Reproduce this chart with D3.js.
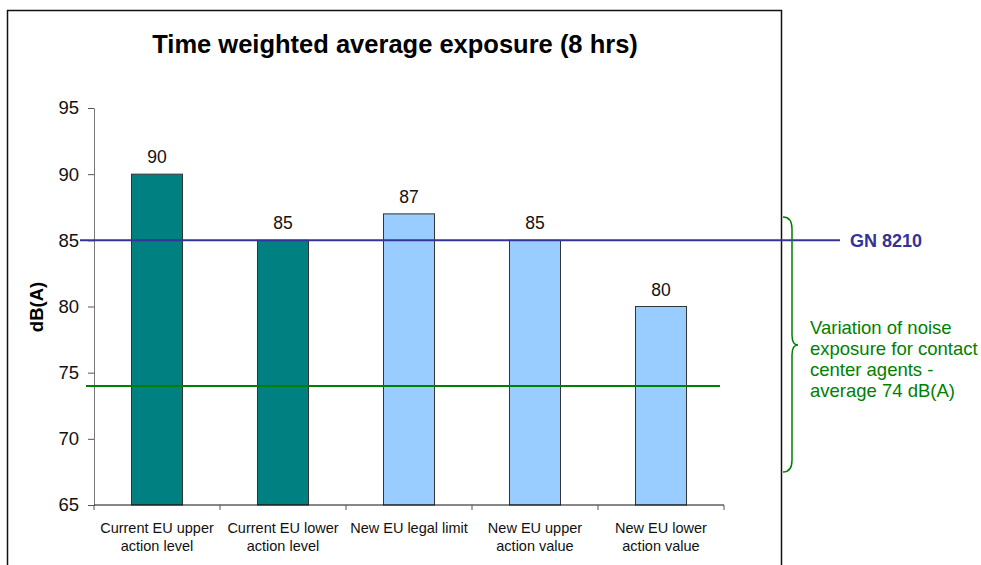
<!DOCTYPE html>
<html>
<head>
<meta charset="utf-8">
<script src="https://cdn.jsdelivr.net/npm/d3@7"></script>
<style>
  body { margin: 0; background: #fff; }
  svg { display: block; font-family: "Liberation Sans", Arial, sans-serif; }
</style>
</head>
<body>
<div id="my_dataviz"></div>
<script>
// data
const categories = [
    ["Current EU upper", "action level"],
    ["Current EU lower", "action level"],
    ["New EU legal limit"],
    ["New EU upper", "action value"],
    ["New EU lower", "action value"]
]
const values = [90, 85, 87, 85, 80]
const kinds = ["current", "current", "new", "new", "new"]
const yTicks = [65, 70, 75, 80, 85, 90, 95]
const gnLevel = 85
const averageLevel = 74
const noteLines = ["Variation of noise", "exposure for contact", "center agents -", "average 74 dB(A)"]

const W = 981, H = 565
const plot = { left: 94, right: 724, top: 108, bottom: 505 }

const svg = d3.select("#my_dataviz")
    .append("svg")
    .attr("width", W)
    .attr("height", H)

// outer frame
svg.append("rect")
    .attr("x", 7.5).attr("y", 10.5)
    .attr("width", 774).attr("height", 600)
    .attr("fill", "none")
    .attr("stroke", "#111")
    .attr("stroke-width", 1.5)

svg.append("text")
    .attr("x", 395).attr("y", 53)
    .attr("text-anchor", "middle")
    .attr("font-size", 25.5)
    .attr("font-weight", "bold")
    .text("Time weighted average exposure (8 hrs)")

const x = d3.scaleBand()
    .domain(d3.range(values.length))
    .range([plot.left, plot.right])
    .paddingInner(0.595)
    .paddingOuter(0.2975)

const y = d3.scaleLinear()
    .domain([65, 95])
    .range([plot.bottom, plot.top])

const color = d3.scaleOrdinal()
    .domain(["current", "new"])
    .range(["#008080", "#99ccff"])

// y axis
const yAxis = svg.append("g")
    .attr("transform", `translate(${plot.left},0)`)
    .call(d3.axisLeft(y).tickValues(yTicks).tickSize(6).tickPadding(9).tickSizeOuter(0))
yAxis.select(".domain").attr("stroke", "#777")
yAxis.selectAll(".tick line").attr("stroke", "#555")
yAxis.selectAll("text")
    .attr("font-size", 18.5)
    .attr("font-family", "Liberation Sans, Arial, sans-serif")
    .attr("fill", "#111")

svg.append("text")
    .attr("transform", "translate(43,307) rotate(-90)")
    .attr("text-anchor", "middle")
    .attr("font-size", 18.5)
    .attr("font-weight", "bold")
    .text("dB(A)")

// bars
svg.append("g")
    .selectAll("rect")
    .data(values)
    .join("rect")
    .attr("x", (d, i) => x(i))
    .attr("y", d => y(d))
    .attr("width", x.bandwidth())
    .attr("height", d => y(65) - y(d))
    .attr("fill", (d, i) => color(kinds[i]))
    .attr("stroke", "#333")
    .attr("stroke-width", 1)

svg.append("g")
    .selectAll("text")
    .data(values)
    .join("text")
    .attr("x", (d, i) => x(i) + x.bandwidth() / 2)
    .attr("y", d => y(d) - 11)
    .attr("text-anchor", "middle")
    .attr("font-size", 17.5)
    .attr("fill", "#111")
    .text(d => d)

// x axis with ticks on the band boundaries
svg.append("line")
    .attr("x1", plot.left).attr("x2", plot.right)
    .attr("y1", plot.bottom).attr("y2", plot.bottom)
    .attr("stroke", "#111")
const bounds = d3.range(values.length + 1).map(i => plot.left + i * x.step())
svg.append("g")
    .selectAll("line")
    .data(bounds)
    .join("line")
    .attr("x1", d => d).attr("x2", d => d)
    .attr("y1", plot.bottom).attr("y2", plot.bottom + 5)
    .attr("stroke", "#555")

const catText = svg.append("g")
    .selectAll("text")
    .data(categories)
    .join("text")
    .attr("x", (d, i) => x(i) + x.bandwidth() / 2)
    .attr("y", 533)
    .attr("text-anchor", "middle")
    .attr("font-size", 14.5)
    .attr("fill", "#111")
catText.selectAll("tspan")
    .data(d => d)
    .join("tspan")
    .attr("x", function() { return d3.select(this.parentNode).attr("x") })
    .attr("dy", (d, i) => i === 0 ? 0 : 18)
    .text(d => d)

// reference lines
svg.append("line")
    .attr("x1", 80).attr("x2", 840)
    .attr("y1", y(gnLevel)).attr("y2", y(gnLevel))
    .attr("stroke", "#333399")
    .attr("stroke-width", 2)
svg.append("text")
    .attr("x", 850).attr("y", y(gnLevel) + 7)
    .attr("font-size", 18)
    .attr("font-weight", "bold")
    .attr("fill", "#333399")
    .text("GN 8210")

svg.append("line")
    .attr("x1", 86).attr("x2", 720)
    .attr("y1", y(averageLevel)).attr("y2", y(averageLevel))
    .attr("stroke", "#008000")
    .attr("stroke-width", 2)

// brace showing the range of exposure
const bTop = 217, bBot = 472, bMid = 345, bx = 783
svg.append("path")
    .attr("d", `M${bx},${bTop} Q${bx + 9},${bTop} ${bx + 9},${bTop + 12}
                L${bx + 9},${bMid - 10} Q${bx + 9},${bMid} ${bx + 15},${bMid}
                Q${bx + 9},${bMid} ${bx + 9},${bMid + 10}
                L${bx + 9},${bBot - 12} Q${bx + 9},${bBot} ${bx},${bBot}`)
    .attr("fill", "none")
    .attr("stroke", "#008000")
    .attr("stroke-width", 1.5)

svg.append("g")
    .selectAll("text")
    .data(noteLines)
    .join("text")
    .attr("x", 810)
    .attr("y", (d, i) => 334 + i * 21)
    .attr("font-size", 18.5)
    .attr("fill", "#008000")
    .text(d => d)
</script>
</body>
</html>
